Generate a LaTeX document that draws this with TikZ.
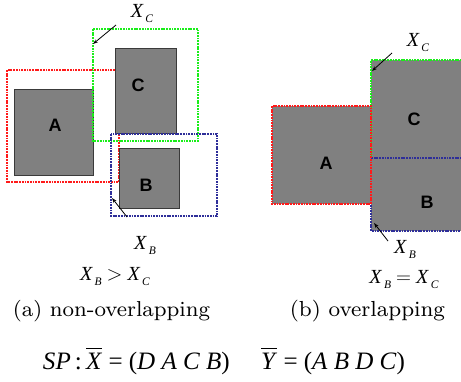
\documentclass[tikz,border=0pt]{standalone}
\usepackage{fontspec}
\usetikzlibrary{arrows.meta}
\newfontfamily\tms{Liberation Serif}
\newfontfamily\arl{Liberation Sans}
\definecolor{boxgray}{HTML}{808080}
\definecolor{edgegray}{HTML}{3A3A3A}
\definecolor{myred}{HTML}{FF1A1A}
\definecolor{mygreen}{HTML}{1AEE1A}
\definecolor{myblue}{HTML}{2E2E99}
\newcommand\Xs[1]{\textit{X}\kern1.8pt\raisebox{-5pt}{\fontsize{11.5}{12}\selectfont\textit{#1}}}
\newcommand\barred[1]{$\overline{\mbox{\rule{0pt}{0.8em}\textit{#1}}}$}
\tikzset{
  gbox/.style={fill=boxgray, draw=edgegray, line width=0.8pt},
  dotbox/.style={line width=1.3pt, dash pattern=on 1.8pt off 0.9pt},
  letter/.style={font=\arl\bfseries\fontsize{18}{20}\selectfont},
  lbl/.style={font=\tms\fontsize{20}{22}\selectfont, inner sep=0pt},
  captext/.style={inner sep=0pt},
  arr/.style={-{Stealth[length=5pt,width=3.5pt]}, line width=0.8pt, black},
}
\begin{document}
\begin{tikzpicture}[x=1pt,y=-1pt]
\useasboundingbox (0,0) rectangle (461,381);
% ---------- (a) non-overlapping ----------
\draw[dotbox, myred] (7,70) rectangle (119,182);
\path[gbox] (14,89) rectangle (93,175);
\node[letter] (la) at (55,125) {A};
\draw[dotbox, mygreen] (93,29) rectangle (198,141);
\path[gbox] (115,48) rectangle (176,133);
\node[letter] (lc) at (138,85) {C};
\draw[dotbox, myblue] (111,134) rectangle (217,216);
\path[gbox] (119,148) rectangle (179,208);
\node[letter] (lb) at (146,185) {B};
\coordinate (xc1) at (116,25);
\coordinate (xc1t) at (93,44);
\coordinate (xb1) at (127,217);
\coordinate (xb1t) at (112,198);
\draw[arr] (xc1) -- (xc1t);
\draw[arr] (xb1) -- (xb1t);
\node[lbl] (lxc) at (142,14) {\Xs{C}};
\node[lbl] (lxb) at (145,245) {\Xs{B}};
\node[lbl] (lrel) at (115,277) {\Xs{B} $>$ \Xs{C}};
\node[captext] (capa) at (111.5,311) {\resizebox{197pt}{!}{\fontsize{8}{9}\selectfont (a) non-overlapping}};
% ---------- (b) overlapping ----------
\begin{scope}
\clip (0,0) rectangle (461,381);
\fill[boxgray] (371,60) rectangle (470,231);
\draw[dotbox, mygreen] (470,60) -- (371,60) -- (371,158);
\draw[dotbox, myblue] (470,158) -- (371,158) -- (371,231) -- (470,231);
\end{scope}
\node[letter] (rc) at (414,119) {C};
\node[letter] (rb) at (427,202) {B};
\path[fill=boxgray] (272,106) rectangle (371,204);
\draw[dotbox, myred] (272,106) rectangle (371,204);
\node[letter] (ra) at (326,163) {A};
\coordinate (xc2) at (392,53);
\coordinate (xc2t) at (372,71);
\coordinate (xb2) at (388,241);
\coordinate (xb2t) at (374,223);
\draw[arr] (xc2) -- (xc2t);
\draw[arr] (xb2) -- (xb2t);
\node[lbl] (rxc) at (418,43) {\Xs{C}};
\node[lbl] (rxb) at (405,249) {\Xs{B}};
\node[lbl] (rrel) at (404,280) {\Xs{B} $=$ \Xs{C}};
\node[captext] (capb) at (367.5,311) {\resizebox{155pt}{!}{\fontsize{8}{9}\selectfont (b) overlapping}};
% ---------- bottom line ----------
\node[inner sep=0pt] (sp) at (224,361)
  {\resizebox{362pt}{!}{\tms\fontsize{24}{28}\selectfont\textit{SP}\,:\,\barred{X} = (\textit{D A C B})\quad\ \barred{Y} = (\textit{A B D C})}};
\end{tikzpicture}
\end{document}
